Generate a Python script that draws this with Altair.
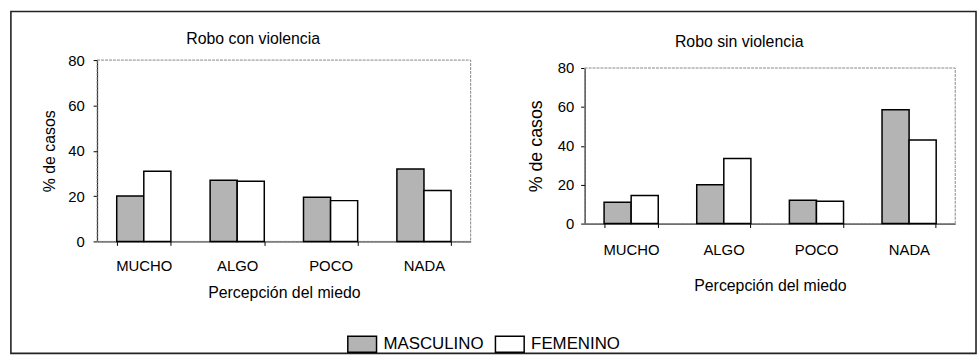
import altair as alt
import pandas as pd

categories = ["MUCHO", "ALGO", "POCO", "NADA"]
series = ["MASCULINO", "FEMENINO"]
con_masculino = [20, 27, 19.5, 32]
con_femenino = [31, 26.5, 18, 22.5]
sin_masculino = [11, 20, 12, 58.5]
sin_femenino = [14.5, 33.5, 11.5, 43]
y_ticks = [0, 20, 40, 60, 80]
titles = ["Robo con violencia", "Robo sin violencia"]

FONT = "Liberation Sans"


def make_df(m, f):
    rows = []
    for c, a, b in zip(categories, m, f):
        rows.append({"cat": c, "sexo": series[0], "pct": a})
        rows.append({"cat": c, "sexo": series[1], "pct": b})
    return pd.DataFrame(rows)


def panel(df, title, w, h, yrange, t_dy, ylab_pad, ytitle_size, ytitle_pad,
          xlab_pad, xtitle_pad, frame=False):
    x = alt.X(
        "cat:N", sort=categories,
        scale=alt.Scale(paddingInner=0.42, paddingOuter=0.21),
        axis=alt.Axis(title="Percepción del miedo", labelAngle=0, tickBand="extent",
                      labelFont=FONT, labelFontSize=15, labelColor="black",
                      labelPadding=xlab_pad, tickSize=4, tickColor="black",
                      domainColor="black", titleFont=FONT, titleFontSize=16,
                      titleFontWeight="normal", titleColor="black",
                      titlePadding=xtitle_pad),
    )
    y = alt.Y(
        "pct:Q",
        scale=alt.Scale(domain=[0, 80], range=yrange, nice=False, zero=True),
        axis=alt.Axis(values=y_ticks, title="% de casos", grid=False,
                      labelFont=FONT, labelFontSize=15, labelColor="black",
                      labelPadding=ylab_pad, tickSize=4, tickColor="black",
                      domainColor="black", titleFont=FONT,
                      titleFontSize=ytitle_size, titleFontWeight="normal",
                      titleColor="black", titlePadding=ytitle_pad),
    )
    bars = alt.Chart(df).mark_bar(stroke="black", strokeWidth=1.5).encode(
        x=x,
        y=y,
        xOffset=alt.XOffset("sexo:N", sort=series,
                            scale=alt.Scale(paddingInner=0, paddingOuter=0)),
        fill=alt.Fill(
            "sexo:N", sort=series,
            scale=alt.Scale(domain=series, range=["#b4b4b4", "#ffffff"]),
            legend=alt.Legend(
                orient="none", legendX=252, legendY=271, direction="horizontal",
                title=None, symbolType="M-1,-0.55L1,-0.55L1,0.55L-1,0.55Z",
                symbolSize=841, symbolStrokeColor="black", symbolStrokeWidth=1.5,
                labelFont=FONT, labelFontSize=17, labelColor="black",
                columnPadding=8, labelOffset=6, padding=0,
            ),
        ),
    )
    border = alt.Chart(pd.DataFrame({"a": [0]})).mark_rect(
        fillOpacity=0, stroke="#888888", strokeWidth=1, strokeDash=[3, 1]
    ).encode(
        x=alt.value(0), x2=alt.value(w), y=alt.datum(80), y2=alt.datum(0)
    )
    layers = [border, bars]
    if frame:
        outer = alt.Chart(pd.DataFrame({"a": [0]})).mark_rect(
            fillOpacity=0, stroke="#222222", strokeWidth=1.6
        ).encode(
            x=alt.value(-87), x2=alt.value(887), y=alt.value(-49), y2=alt.value(296)
        )
        layers.append(outer)
    return alt.layer(*layers).properties(
        width=w, height=h,
        title=alt.TitleParams(title, font=FONT, fontSize=16, fontWeight="normal",
                              color="black", anchor="middle", dx=-31, dy=t_dy,
                              baseline="alphabetic", offset=10),
    )


left = panel(make_df(con_masculino, con_femenino), titles[0], 377, 183, [183, 0],
             60, 9, 16, 10, 13, 12, frame=True)
right = panel(make_df(sin_masculino, sin_femenino), titles[1], 374, 165, [165, 8],
              13, 7, 18, 12, 15, 21)

chart = alt.hconcat(left, right, spacing=115, bounds="flush").configure(
    padding={"left": 9, "top": 8, "right": 0, "bottom": 0},
    background="white",
).configure_view(stroke="transparent")

chart.save("out.html", embed_options={"renderer": "svg", "actions": False})
